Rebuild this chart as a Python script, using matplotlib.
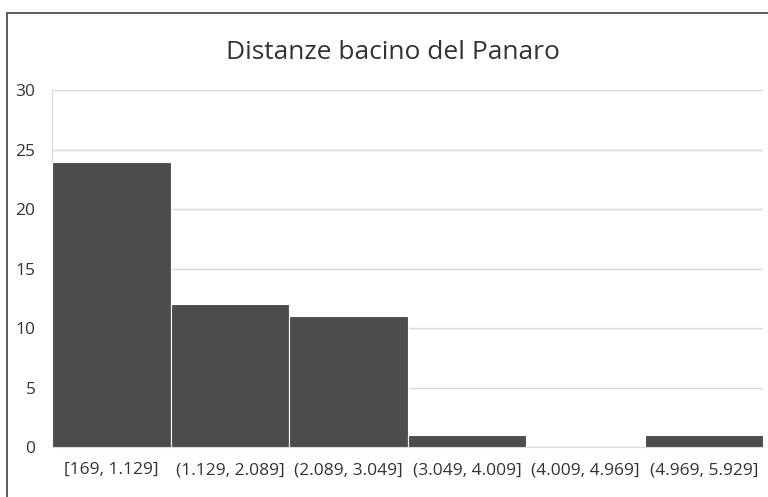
import matplotlib.pyplot as plt
from matplotlib.patches import Rectangle

# Dati dell'istogramma
categorie = ['[169, 1.129]', '(1.129, 2.089]', '(2.089, 3.049]',
             '(3.049, 4.009]', '(4.009, 4.969]', '(4.969, 5.929]']
frequenze = [24, 12, 11, 1, 0, 1]
tick_y = [0, 5, 10, 15, 20, 25, 30]

plt.rcParams['font.family'] = ['Open Sans', 'DejaVu Sans']

fig = plt.figure(figsize=(7.68, 4.97), dpi=100)
ax = fig.add_axes([0.068, 0.1006, 0.926, 0.718])

# cornice del grafico
fig.patches.append(Rectangle((7 / 768, -0.1), 1.2, 1 - 13 / 497 + 0.1,
                             transform=fig.transFigure, fill=False,
                             edgecolor='#404040', linewidth=1.2))

x = range(len(categorie))
ax.bar(x, frequenze, width=1.0, color='#4d4d4d', edgecolor='white', linewidth=0.8, zorder=3)

ax.set_xlim(-0.5, len(categorie) - 0.5)
ax.set_ylim(0, 30)
ax.set_yticks(tick_y)
ax.set_xticks(list(x))
ax.set_xticklabels(categorie)
ax.grid(axis='y', color='#d9d9d9', linewidth=1, zorder=0)
ax.tick_params(length=0, labelsize=12.5, colors='#333333', pad=11)
ax.tick_params(axis='y', pad=12)
for lato in ['top', 'right']:
    ax.spines[lato].set_visible(False)
for lato in ['left', 'bottom']:
    ax.spines[lato].set_color('#d9d9d9')

fig.text(0.512, 0.895, 'Distanze bacino del Panaro', ha='center', va='center',
         fontsize=19, color='#333333')

fig.savefig('out.png', dpi=100)
